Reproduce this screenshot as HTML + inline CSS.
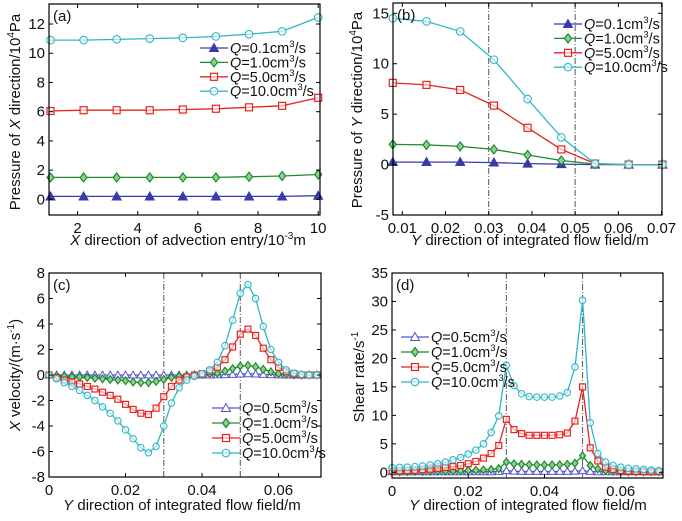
<!DOCTYPE html>
<html><head><meta charset="utf-8">
<style>
body{margin:0;background:#fff;}
svg{display:block;font-family:"Liberation Sans",sans-serif;}
</style></head>
<body>
<svg id="fig" width="682" height="521" viewBox="0 0 682 521" xmlns="http://www.w3.org/2000/svg"></svg>
<script>
// ---- data ----
const aX = [1.1,2.2,3.3,4.4,5.5,6.6,7.7,8.8,10.0];
const aQ01 = [0.2,0.2,0.2,0.2,0.2,0.2,0.2,0.2,0.25];
const aQ1 = [1.5,1.5,1.5,1.5,1.5,1.5,1.55,1.6,1.7];
const aQ5 = [6.05,6.1,6.1,6.1,6.15,6.2,6.3,6.4,6.95];
const aQ10 = [10.9,10.9,10.95,11.0,11.05,11.15,11.3,11.5,12.45];
const aXTicks = [2,4,6,8,10];
const aYTicks = [0,2,4,6,8,10,12];

const bX = [0.0078,0.0156,0.0234,0.0312,0.039,0.0468,0.0546,0.0624,0.0702];
const bQ01 = [0.25,0.25,0.25,0.2,0.1,0.05,0,0,0];
const bQ1 = [2.0,1.95,1.8,1.5,0.95,0.4,0.05,0,0];
const bQ5 = [8.1,7.9,7.4,5.85,3.65,1.5,0.1,0,0];
const bQ10 = [14.5,14.2,13.2,10.4,6.5,2.7,0.1,0,0];
const bXTicks = [0.01,0.02,0.03,0.04,0.05,0.06,0.07];
const bYTicks = [-5,0,5,10,15];

const cX = [0,0.002,0.004,0.006,0.008,0.010,0.012,0.014,0.016,0.018,0.020,0.022,0.024,0.026,0.028,0.030,0.032,0.034,0.036,0.038,0.040,0.042,0.044,0.046,0.048,0.050,0.052,0.054,0.056,0.058,0.060,0.062,0.064,0.066,0.068,0.070];
const cQ05 = [0,0,0,0,0,0,0,0,0,0,0,0,0,0,0,0,0,0,0,0,0,0,0.02,0.03,0.05,0.08,0.1,0.08,0.05,0.03,0.01,0,0,0,0,0];
const cQ1 = [0,-0.05,-0.1,-0.15,-0.15,-0.2,-0.25,-0.3,-0.35,-0.4,-0.45,-0.55,-0.6,-0.6,-0.5,-0.35,-0.2,-0.1,-0.05,0,0.05,0.1,0.15,0.3,0.5,0.7,0.75,0.65,0.45,0.25,0.1,0.05,0,0,0,0];
const cQ5 = [0,-0.2,-0.4,-0.55,-0.7,-0.9,-1.1,-1.35,-1.6,-1.9,-2.3,-2.7,-3.0,-3.1,-2.6,-1.7,-0.9,-0.4,-0.15,0,0.1,0.3,0.6,1.2,2.2,3.2,3.6,3.1,2.1,1.2,0.6,0.25,0.1,0,0,0];
const cQ10 = [0,-0.3,-0.6,-0.9,-1.2,-1.6,-2.0,-2.5,-3.0,-3.6,-4.3,-5.0,-5.7,-6.1,-5.6,-4.0,-2.2,-1.0,-0.4,-0.1,0.1,0.4,1.0,2.3,4.3,6.4,7.1,6.0,3.8,2.0,1.0,0.4,0.15,0.05,0,0];
const cXTicks = [0,0.02,0.04,0.06];
const cYTicks = [-8,-6,-4,-2,0,2,4,6,8];

const dX = cX.slice();
const dQ05 = [0.1,0.1,0.1,0.1,0.1,0.1,0.1,0.1,0.1,0.1,0.1,0.1,0.1,0.1,0.15,0.3,0.2,0.15,0.15,0.15,0.15,0.15,0.15,0.15,0.2,0.3,0.15,0.1,0.1,0.1,0.1,0.1,0.1,0.1,0.1,0.1];
const dQ1 = [0.1,0.1,0.12,0.14,0.16,0.18,0.2,0.22,0.25,0.28,0.32,0.36,0.42,0.5,0.65,1.8,1.5,1.4,1.35,1.3,1.3,1.3,1.35,1.4,1.6,2.9,1.2,0.6,0.3,0.2,0.15,0.1,0.1,0.1,0.1,0.1];
const dQ5 = [0.2,0.25,0.3,0.35,0.45,0.55,0.7,0.85,1.0,1.2,1.5,1.9,2.5,3.3,4.7,9.3,7.5,6.8,6.5,6.5,6.5,6.5,6.6,6.9,9.0,15.0,4.3,2.0,0.9,0.5,0.3,0.2,0.15,0.1,0.1,0.1];
const dQ10 = [0.8,0.85,0.9,1.0,1.1,1.3,1.5,1.8,2.2,2.6,3.2,3.9,5.0,7.0,9.9,18.8,15.2,13.8,13.3,13.2,13.2,13.2,13.4,14.0,18.5,30.2,8.7,3.3,1.8,1.2,0.9,0.7,0.6,0.5,0.4,0.3];
const dXTicks = [0,0.02,0.04,0.06];
const dYTicks = [0,5,10,15,20,25,30,35];

const legendQa = ["0.1","1.0","5.0","10.0"];
const legendQc = ["0.5","1.0","5.0","10.0"];

// ---- drawing ----
const NS = "http://www.w3.org/2000/svg";
const svg = document.getElementById('fig');
const COL = {b:"#3a3aaa", g:"#1d8a2e", r:"#e8231f", c:"#2fb7c7"};
const FS = 15;
function mk(tag, attrs, parent){
  const e = document.createElementNS(NS, tag);
  for (const k in attrs) e.setAttribute(k, attrs[k]);
  (parent||svg).appendChild(e);
  return e;
}
function fmt(v){ return Math.abs(v) < 1e-9 ? "0" : (Math.abs(v) < 1 ? String(+v.toFixed(2)) : String(v)); }
function marker(g, type, x, y, color, filled, s){
  let e;
  if (type === 'tri') {
    e = mk('polygon', {points:`${x},${y-4.5*s} ${x-4.5*s},${y+3.5*s} ${x+4.5*s},${y+3.5*s}`, fill:filled?color:"#fff", stroke:color, 'stroke-width':1}, g);
  } else if (type === 'dia') {
    e = mk('polygon', {points:`${x},${y-4.5*s} ${x+3.5*s},${y} ${x},${y+4.5*s} ${x-3.5*s},${y}`, fill:filled?"#8fd08f":"#fff", stroke:color, 'stroke-width':1.2}, g);
  } else if (type === 'sq') {
    e = mk('rect', {x:x-3.5*s, y:y-3.5*s, width:7*s, height:7*s, fill:"#fff", 'fill-opacity':0.6, stroke:color, 'stroke-width':1.2}, g);
  } else {
    e = mk('circle', {cx:x, cy:y, r:3.8*s, fill:"#fff", 'fill-opacity':0.6, stroke:color, 'stroke-width':1.1}, g);
  }
  
  
}
function panel(p){
  const g = mk('g', {});
  
  
  const ms = p.ms || 1;
  const sx = v => p.L + (v - p.x0) / (p.x1 - p.x0) * (p.R - p.L);
  const sy = v => p.B - (v - p.y0) / (p.y1 - p.y0) * (p.B - p.T);
  (p.vlines||[]).forEach(v=>{
    const l = mk('line', {x1:sx(v), x2:sx(v), y1:p.T, y2:p.B, stroke:"#555", 'stroke-width':1, 'stroke-dasharray':"6,2,1,2"}, g);
    
    
  });
  p.series.forEach(s=>{
    const sg = mk('g', {}, g);
    
    
    const pts = p.xs.map((x,i)=>sx(x).toFixed(1)+','+sy(s.ys[i]).toFixed(1)).join(' ');
    const pl = mk('polyline', {points:pts, fill:"none", stroke:s.color, 'stroke-width':1.3}, sg);
    
    
    p.xs.forEach((x,i)=>marker(sg, s.m, sx(x), sy(s.ys[i]), s.color, s.filled, ms));
  });
  const fr = mk('rect', {x:p.L, y:p.T, width:p.R-p.L, height:p.B-p.T, fill:"none", stroke:"#000", 'stroke-width':1.2}, g);
  
  
  p.xt.forEach(v=>{
    const x = sx(v);
    mk('line', {x1:x, x2:x, y1:p.B, y2:p.B-4, stroke:"#000", 'stroke-width':1}, g);
    mk('line', {x1:x, x2:x, y1:p.T, y2:p.T+4, stroke:"#000", 'stroke-width':1}, g);
    const t = mk('text', {x:x, y:p.B+18, 'font-size':FS, 'text-anchor':'middle', fill:"#111"}, g);
    t.textContent = fmt(v);
    
    
  });
  p.yt.forEach(v=>{
    const y = sy(v);
    mk('line', {x1:p.L, x2:p.L+4, y1:y, y2:y, stroke:"#000", 'stroke-width':1}, g);
    mk('line', {x1:p.R, x2:p.R-4, y1:y, y2:y, stroke:"#000", 'stroke-width':1}, g);
    const t = mk('text', {x:p.L-4, y:y+5, 'font-size':FS, 'text-anchor':'end', fill:"#111"}, g);
    t.textContent = fmt(v);
    
    
  });
  const pt = mk('text', {x:p.L+4, y:p.T+17, 'font-size':FS, fill:"#111"}, g);
  pt.textContent = p.letter;
  
  
  const xt = mk('text', {x:p.xlx, y:p.xly, 'font-size':FS, 'text-anchor':'middle', fill:"#111"}, g);
  xt.innerHTML = p.xlabel;
  
  
  const yt = mk('text', {x:0, y:0, 'font-size':FS, 'text-anchor':'middle', fill:"#111", transform:`translate(${p.ylx},${p.yly}) rotate(-90)`}, g);
  yt.innerHTML = p.ylabel;
  
  
  const lg = mk('g', {}, g);
  
  
  p.series.forEach((s,i)=>{
    const y = p.legY + i*p.legDy;
    const eg = mk('g', {}, lg);
    
    
    mk('line', {x1:p.legX, x2:p.legX+28, y1:y, y2:y, stroke:s.color, 'stroke-width':1.3}, eg);
    marker(eg, s.m, p.legX+14, y, s.color, s.filled, 1);
    const t = mk('text', {x:p.legX+30, y:y+5, 'font-size':14.5, fill:"#111"}, eg);
    t.innerHTML = `<tspan font-style="italic">Q</tspan>=${s.label}cm<tspan font-size="9.5" dy="-6">3</tspan><tspan dy="6">/s</tspan>`;
  });
}
const sup = s => `<tspan font-size="10" dy="-6">${s}</tspan><tspan dy="6">`;
panel({name:'panel-a', letter:'(a)', L:49, R:320, T:4, B:215, x0:1.05, x1:10.06, y0:-1.07, y1:13.37,
  xs:aX, xt:aXTicks, yt:aYTicks,
  series:[{label:legendQa[0], ys:aQ01, color:COL.b, m:'tri', filled:true},
          {label:legendQa[1], ys:aQ1, color:COL.g, m:'dia', filled:true},
          {label:legendQa[2], ys:aQ5, color:COL.r, m:'sq'},
          {label:legendQa[3], ys:aQ10, color:COL.c, m:'circ'}],
  legX:200, legY:48, legDy:14.4,
  xlx:188, xly:245, xlabel:`<tspan font-style="italic">X</tspan> direction of advection entry/10${sup('-3')}m</tspan>`,
  ylx:20, yly:112, ylabel:`Pressure of <tspan font-style="italic">X</tspan> direction/10${sup('4')}Pa</tspan>`});
panel({name:'panel-b', letter:'(b)', L:393, R:662, T:3, B:215, x0:0.00785, x1:0.0701, y0:-5, y1:16.02,
  xs:bX, xt:bXTicks, yt:bYTicks, vlines:[0.03,0.05],
  series:[{label:legendQa[0], ys:bQ01, color:COL.b, m:'tri', filled:true},
          {label:legendQa[1], ys:bQ1, color:COL.g, m:'dia', filled:true},
          {label:legendQa[2], ys:bQ5, color:COL.r, m:'sq'},
          {label:legendQa[3], ys:bQ10, color:COL.c, m:'circ'}],
  legX:554, legY:24, legDy:14.4,
  xlx:530, xly:245, xlabel:`<tspan font-style="italic">Y</tspan> direction of integrated flow field/m`,
  ylx:362, yly:110, ylabel:`Pressure of <tspan font-style="italic">Y</tspan> direction/10${sup('4')}Pa</tspan>`});
panel({name:'panel-c', letter:'(c)', L:49, R:321, T:273, B:477, x0:0, x1:0.0711, y0:-8, y1:8,
  xs:cX, xt:cXTicks, yt:cYTicks, vlines:[0.03,0.05], ms:0.85,
  series:[{label:legendQc[0], ys:cQ05, color:"#5555cc", m:'tri'},
          {label:legendQc[1], ys:cQ1, color:COL.g, m:'dia', filled:true},
          {label:legendQc[2], ys:cQ5, color:COL.r, m:'sq'},
          {label:legendQc[3], ys:cQ10, color:COL.c, m:'circ'}],
  legX:212, legY:408, legDy:15,
  xlx:182, xly:510, xlabel:`<tspan font-style="italic">Y</tspan> direction of integrated flow field/m`,
  ylx:20, yly:375, ylabel:`<tspan font-style="italic">X</tspan> velocity/(m·s${sup('-1')})</tspan>`});
panel({name:'panel-d', letter:'(d)', L:392, R:663, T:273, B:478, x0:0, x1:0.0711, y0:-1, y1:35,
  xs:dX, xt:dXTicks, yt:dYTicks, vlines:[0.03,0.05], ms:0.85,
  series:[{label:legendQc[0], ys:dQ05, color:"#5555cc", m:'tri'},
          {label:legendQc[1], ys:dQ1, color:COL.g, m:'dia', filled:true},
          {label:legendQc[2], ys:dQ5, color:COL.r, m:'sq'},
          {label:legendQc[3], ys:dQ10, color:COL.c, m:'circ'}],
  legX:401, legY:337, legDy:15,
  xlx:528, xly:510, xlabel:`<tspan font-style="italic">Y</tspan> direction of integrated flow field/m`,
  ylx:364, yly:377, ylabel:`Shear rate/s${sup('-1')}</tspan>`});
</script>
</body></html>
